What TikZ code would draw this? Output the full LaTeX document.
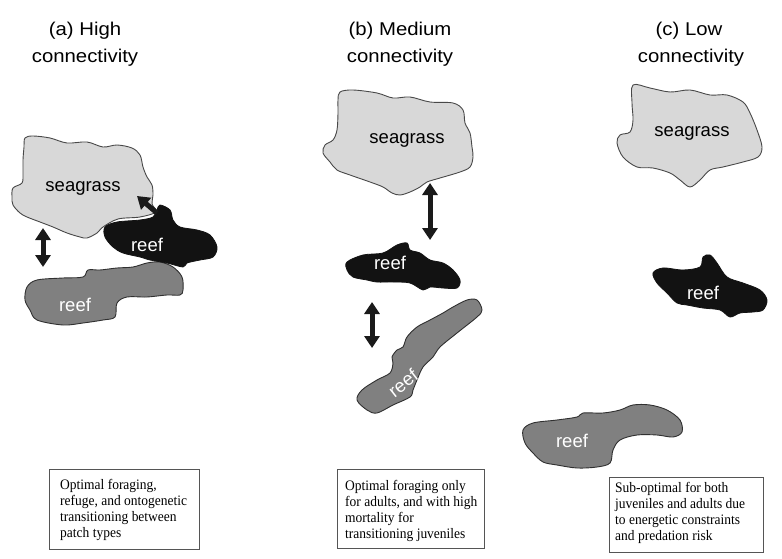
\documentclass[tikz,border=0pt]{standalone}
\usepackage{fontspec}
\setmainfont{Liberation Sans}
\newfontfamily\titlefont[FakeStretch=1.1]{Liberation Sans}
\newfontfamily\boxfont[FakeStretch=0.93]{Liberation Serif}
\usetikzlibrary{arrows.meta}
\definecolor{sgfill}{HTML}{D8D8D8}
\definecolor{sgline}{HTML}{484848}
\definecolor{blk}{HTML}{121212}
\definecolor{gry}{HTML}{808080}
\definecolor{gryline}{HTML}{303030}
\definecolor{arrc}{HTML}{1A1A1A}
\definecolor{boxline}{HTML}{555555}
\tikzset{
  sg/.style={fill=sgfill, draw=sgline, line width=0.9pt},
  blackreef/.style={fill=blk, draw=blk, line width=0.8pt},
  greyreef/.style={fill=gry, draw=gryline, line width=0.9pt},
  title/.style={font=\titlefont\fontsize{18.5}{27}\selectfont, anchor=base, inner sep=0pt},
  lab/.style={font=\fontsize{18.5}{22}\selectfont, inner sep=0pt},
  dbl/.style={line width=5pt, draw=arrc, {Triangle[width=15pt,length=12pt]}-{Triangle[width=15pt,length=12pt]}},
  sgl/.style={line width=5pt, draw=arrc, -{Triangle[width=15pt,length=12pt]}},
  infobox/.style={draw=boxline, line width=0.8pt, fill=white, anchor=north west, inner sep=0pt},
  boxtext/.style={font=\boxfont\fontsize{14.5}{15.7}\selectfont, align=left, anchor=base west, inner sep=0pt}
}
\begin{document}
\begin{tikzpicture}[x=1pt,y=-1pt]
\useasboundingbox (0,0) rectangle (782,559);

% titles
\node[title] (ta1) at (85,36) {(a) High};
\node[title] (ta2) at (85,63) {connectivity};
\node[title] (tb1) at (400,36) {(b) Medium};
\node[title] (tb2) at (400,63) {connectivity};
\node[title] (tc1) at (689,36) {(c) Low};
\node[title] (tc2) at (691,63) {connectivity};

% ===== panel (a)
\draw[sg] plot[smooth cycle, tension=0.55] coordinates {
 (25,138) (33,136) (50,138) (67,143) (87,142) (103,147) (117,145) (132,148)
 (140,155) (143,167) (147,177) (152,185) (153,195) (152,204) (156,212)
 (140,217) (118,219) (103,227) (97,233) (87,238) (80,237) (67,233) (53,227)
 (40,222) (27,217) (20,213) (13,205) (12,197) (13,188) (22,183) (23,173)
 (23,160) (24,147)};
\draw[greyreef] plot[smooth cycle, tension=0.55] coordinates {
 (27,287) (37,280) (63,278) (83,277) (88,270) (100,270) (117,268) (133,267)
 (147,263) (160,262) (173,267) (182,277) (183,290) (180,295) (167,295)
 (147,297) (127,297) (117,303) (115,317) (103,320) (83,323) (63,325)
 (37,320) (30,310) (25,300)};
\draw[blackreef] plot[smooth cycle, tension=0.55] coordinates {
 (105,227) (117,222) (140,220) (153,217) (157,210) (160,205) (170,210)
 (173,220) (180,227) (197,230) (210,235) (217,247) (213,257) (200,260)
 (187,263) (183,267) (167,263) (150,260) (140,257) (123,253) (113,247)
 (105,237)};
\node[lab, text=black] (sga) at (83,188) {seagrass};
\node[lab, text=white] (rfa1) at (147,245) {reef};
\node[lab, text=white] (rfa2) at (75,305) {reef};
\coordinate (aa1) at (43,228);
\coordinate (aa2) at (43,267);
\coordinate (ad1) at (157,213);
\coordinate (ad2) at (137,196);
\draw[dbl] (aa1) -- (aa2);
\draw[sgl] (ad1) -- (ad2);

% ===== panel (b)
\draw[sg] plot[smooth cycle, tension=0.55] coordinates {
 (340,92) (353,90) (377,93) (393,98) (410,97) (430,102) (453,103) (463,110)
 (465,123) (470,133) (472,147) (473,157) (470,167) (460,172) (440,178)
 (427,182) (420,187) (410,192) (400,195) (392,193) (383,187) (370,182)
 (350,175) (337,170) (330,162) (323,153) (325,145) (333,140) (337,130)
 (338,113) (338,100)};
\draw[blackreef] plot[smooth cycle, tension=0.55] coordinates {
 (347,262) (363,255) (383,253) (397,245) (407,243) (410,250) (420,253)
 (430,260) (443,263) (453,270) (460,280) (457,288) (443,288) (430,287)
 (423,290) (410,283) (393,282) (377,282) (367,280) (353,277) (347,270)};
\draw[greyreef] plot[smooth cycle, tension=0.55] coordinates {
 (477,300) (482,310) (477,317) (457,333) (440,347) (433,357) (423,367)
 (417,380) (413,390) (410,397) (393,405) (377,413) (367,410) (357,400)
 (362,390) (377,380) (390,373) (393,363) (392,357) (397,350) (403,347)
 (407,337) (417,327) (430,320) (443,313) (453,307) (467,300)};
\node[lab, text=black] (sgb) at (407,140) {seagrass};
\node[lab, text=white] (rfb1) at (390,263) {reef};
\node[lab, text=white, rotate=38] (rfb2) at (403,383) {reef};
\coordinate (ba1) at (430,183);
\coordinate (ba2) at (430,240);
\coordinate (bb1) at (372,302);
\coordinate (bb2) at (372,348);
\draw[dbl] (ba1) -- (ba2);
\draw[dbl] (bb1) -- (bb2);

% ===== panel (c)
\draw[sg] plot[smooth cycle, tension=0.55] coordinates {
 (633,85) (650,88) (670,92) (690,90) (710,95) (727,95) (743,102) (750,113)
 (757,130) (762,147) (758,157) (743,162) (723,167) (710,170) (700,180)
 (690,187) (680,180) (670,173) (653,168) (637,167) (623,157) (617,143)
 (620,135) (630,132) (633,120) (632,103)};
\draw[blackreef] plot[smooth cycle, tension=0.55] coordinates {
 (653,273) (663,268) (683,270) (700,267) (703,257) (710,255) (717,263)
 (727,277) (743,283) (760,290) (767,300) (763,310) (753,312) (740,313)
 (730,317) (720,310) (703,308) (687,305) (677,303) (667,293) (657,283)};
\draw[greyreef] plot[smooth cycle, tension=0.55] coordinates {
 (523,430) (533,423) (557,420) (577,417) (583,413) (603,413) (620,410)
 (633,405) (650,405) (667,410) (680,420) (682,432) (673,437) (657,435)
 (637,435) (620,440) (613,450) (610,463) (597,467) (577,468) (557,465)
 (543,462) (533,453) (525,443)};
\node[lab, text=black] (sgc) at (692,133) {seagrass};
\node[lab, text=white] (rfc1) at (703,293) {reef};
\node[lab, text=white] (rfc2) at (572,441) {reef};

% ===== text boxes (anchor = baseline of last line)
\node[infobox, minimum width=150pt, minimum height=80pt] (boxa) at (49,469) {};
\node[boxtext] (txta) at (60,537) {Optimal foraging,\\refuge, and ontogenetic\\transitioning between\\patch types};
\node[infobox, minimum width=147pt, minimum height=79pt] (boxb) at (337,469) {};
\node[boxtext] (txtb) at (345,538) {Optimal foraging only\\for adults, and with high\\mortality for\\transitioning juveniles};
\node[infobox, minimum width=154pt, minimum height=75pt] (boxc) at (609,477) {};
\node[boxtext] (txtc) at (615,540) {Sub-optimal for both\\juveniles and adults due\\to energetic constraints\\and predation risk};
\end{tikzpicture}
\end{document}
